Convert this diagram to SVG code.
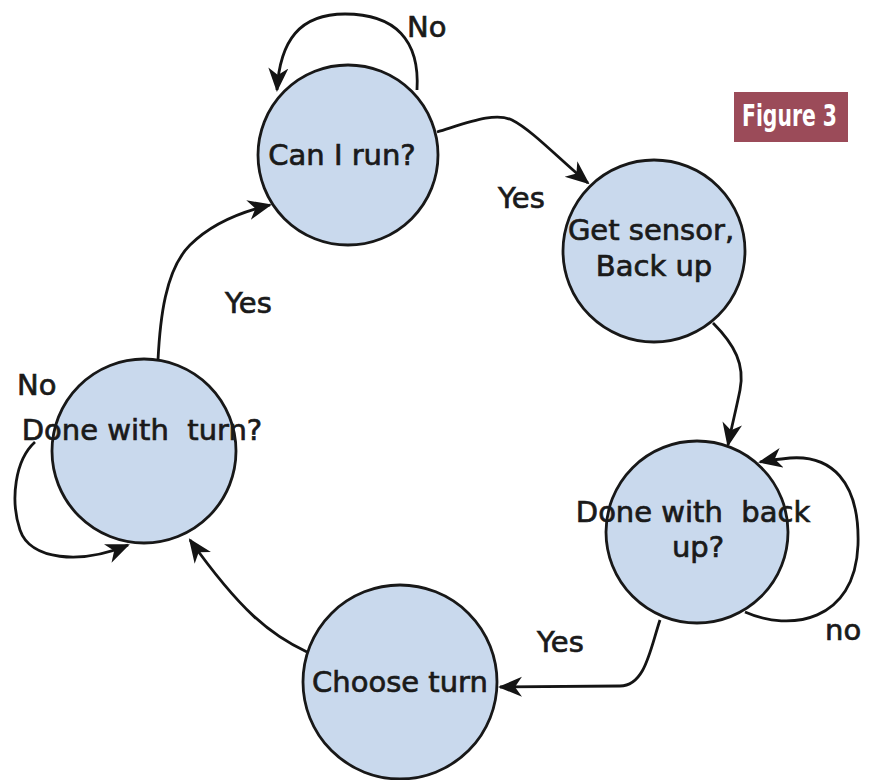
<svg xmlns="http://www.w3.org/2000/svg" width="872" height="780" viewBox="0 0 872 780">
<style>
.node{fill:#c9d9ed;stroke:#181818;stroke-width:2.8}
.t{font-family:"DejaVu Sans",sans-serif;font-size:29px;fill:#1a1a1a;stroke:#1a1a1a;stroke-width:0.7;text-anchor:middle;white-space:pre}
.lab{font-family:"DejaVu Sans",sans-serif;font-size:29px;fill:#1a1a1a;stroke:#1a1a1a;stroke-width:0.7;white-space:pre}
.edge{fill:none;stroke:#141414;stroke-width:2.8}
</style>
<defs>
<marker id="arr" markerUnits="userSpaceOnUse" markerWidth="28" markerHeight="24" refX="22" refY="10" orient="auto">
<path d="M0,0 L24,10 L0,20 L7,10 z" fill="#141414"/>
</marker>
</defs>
<rect width="872" height="780" fill="#ffffff"/>
<g id="badge">
<rect x="734" y="92" width="114" height="50" fill="#9b4b59"/>
<text x="742" y="126" font-family="'DejaVu Sans Condensed','DejaVu Sans',sans-serif" font-weight="bold" font-size="31" fill="#ffffff" textLength="95" lengthAdjust="spacingAndGlyphs">Figure 3</text>
</g>
<g id="n1">
<circle class="node" cx="348" cy="155" r="90"/>
<text class="t" x="342" y="165">Can I run?</text>
</g>
<g id="n2">
<circle class="node" cx="654" cy="251" r="91"/>
<text class="t" x="651" y="240">Get sensor,</text>
<text class="t" x="654" y="276">Back up</text>
</g>
<g id="n3">
<circle class="node" cx="697" cy="532" r="91"/>
<text class="t" x="693" y="522">Done with  back</text>
<text class="t" x="698" y="557">up?</text>
</g>
<g id="n4">
<circle class="node" cx="400" cy="682" r="97"/>
<text class="t" x="400" y="692">Choose turn</text>
</g>
<g id="n5">
<circle class="node" cx="144" cy="451" r="92"/>
<text class="t" x="142" y="440">Done with  turn?</text>
</g>
<g id="edges">
<path class="edge" marker-end="url(#arr)" d="M417,90 C420,40 395,14 345,14 C300,14 280,40 277,90"/>
<path class="edge" marker-end="url(#arr)" d="M437,132 C470,122 495,112 512,120 C532,130 560,160 588,183"/>
<path class="edge" marker-end="url(#arr)" d="M713,323 C735,345 745,365 740,390 C736,410 732,425 728,445"/>
<path class="edge" marker-end="url(#arr)" d="M745,612 C790,632 855,622 858,545 C860,480 830,455 790,458 C780,459 770,460 760,462"/>
<path class="edge" marker-end="url(#arr)" d="M660,620 C650,650 645,686 620,686 L500,687"/>
<path class="edge" marker-end="url(#arr)" d="M307,652 C270,635 240,610 190,540"/>
<path class="edge" marker-end="url(#arr)" d="M35,442 C15,460 10,500 20,530 C30,560 80,565 128,545"/>
<path class="edge" marker-end="url(#arr)" d="M158,360 C160,320 165,270 190,245 C210,225 240,212 270,205"/>
</g>
<g id="labels">
<text class="lab" x="407" y="37">No</text>
<text class="lab" x="498" y="208">Yes</text>
<text class="lab" x="225" y="313">Yes</text>
<text class="lab" x="17" y="395">No</text>
<text class="lab" x="537" y="652">Yes</text>
<text class="lab" x="825" y="640">no</text>
</g>
</svg>
